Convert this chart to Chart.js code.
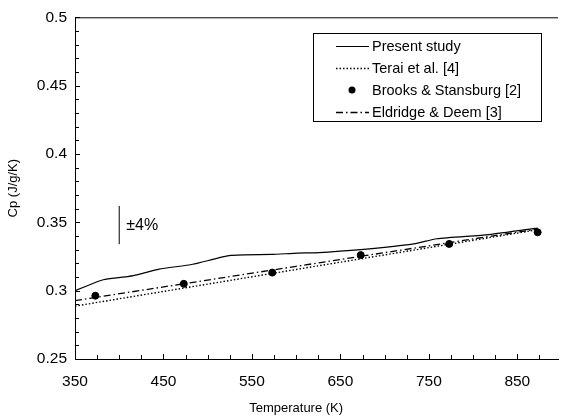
<!DOCTYPE html>
<html lang="en">
<head>
  <meta charset="UTF-8" />
  <title>Cp vs Temperature</title>
  <script src="https://cdn.jsdelivr.net/npm/chart.js"></script>
  <style>
    html, body { margin: 0; padding: 0; background: #fff; }
    #wrap { width: 563px; height: 418px; }
  </style>
</head>
<body>
  <div id="wrap"><canvas id="chart" width="563" height="418"></canvas></div>
  <script>
    // values
    const presentT  = [350, 375, 382, 416, 445, 483, 526, 572, 602, 621, 673, 733, 759, 818, 873];
    const presentCp = [0.300, 0.3065, 0.308, 0.311, 0.3157, 0.3193, 0.3258, 0.3265, 0.3275, 0.3277, 0.330, 0.3342, 0.338, 0.341, 0.3458];

    const teraiT  = [350, 600, 873];
    const teraiCp = [0.2887, 0.3155, 0.3446];

    const brooksT  = [373, 473, 573, 673, 773, 873];
    const brooksCp = [0.2963, 0.305, 0.3132, 0.326, 0.3342, 0.3427];

    const eldridgeT  = [350, 600, 873];
    const eldridgeCp = [0.2927, 0.3178, 0.3451];

    const errT  = [400, 400];
    const errCp = [0.334, 0.362];

    const xTicks = [350, 375, 400, 425, 450, 475, 500, 525, 550, 575, 600, 625, 650, 675, 700, 725, 750, 775, 800, 825, 850, 875];
    const yTicks = [0.25, 0.26, 0.27, 0.28, 0.29, 0.30, 0.31, 0.32, 0.33, 0.34, 0.35, 0.36, 0.37, 0.38, 0.39, 0.40, 0.41, 0.42, 0.43, 0.44, 0.45, 0.46, 0.47, 0.48, 0.49, 0.50];

    const labels = ['Present study', 'Terai et al. [4]', 'Brooks & Stansburg [2]', 'Eldridge & Deem [3]'];
    const xTitle = 'Temperature (K)';

    const pts = (xs, ys) => xs.map((x, i) => ({ x: x, y: ys[i] }));
    const FONT = '"Liberation Sans", Arial, Helvetica, sans-serif';

    // inward ticks, top frame line, boxed legend, x title and the ±4% note
    const decor = {
      id: 'decor',
      afterDraw(chart) {
        const ctx = chart.ctx;
        const a = chart.chartArea;
        const xs = chart.scales.x, ys = chart.scales.y;
        ctx.save();
        ctx.strokeStyle = '#000';
        ctx.lineWidth = 1;
        ctx.setLineDash([]);

        ctx.beginPath();
        ctx.moveTo(a.left, a.top + 0.5);
        ctx.lineTo(a.right, a.top + 0.5);
        ctx.stroke();

        ctx.beginPath();
        xTicks.forEach(v => {
          const px = Math.round(xs.getPixelForValue(v)) + 0.5;
          const len = ((v - 350) % 100 === 0) ? 5 : 4;
          ctx.moveTo(px, a.bottom);
          ctx.lineTo(px, a.bottom - len);
        });
        yTicks.forEach(v => {
          const py = Math.round(ys.getPixelForValue(v)) + 0.5;
          const major = Math.round(v * 100) % 5 === 0;
          ctx.moveTo(a.left, py);
          ctx.lineTo(a.left + (major ? 5 : 4), py);
        });
        ctx.stroke();

        // legend box
        const bx = 313.5, by = 33.5, bw = 228, bh = 88;
        ctx.strokeRect(bx, by, bw, bh);
        ctx.font = '14.5px ' + FONT;
        ctx.fillStyle = '#000';
        ctx.textBaseline = 'middle';
        const rows = [46, 68, 90, 112];
        chart.data.datasets.slice(0, 4).forEach((ds, i) => {
          const y = rows[i];
          if (ds.showLine === false) {
            ctx.beginPath();
            ctx.arc(352, y, 3.5, 0, Math.PI * 2);
            ctx.fill();
          } else {
            ctx.setLineDash(ds.borderDash || []);
            ctx.lineWidth = ds.borderWidth;
            ctx.beginPath();
            ctx.moveTo(336, y + 0.5);
            ctx.lineTo(369, y + 0.5);
            ctx.stroke();
            ctx.setLineDash([]);
          }
          ctx.fillText(ds.label, 372, y + 1);
        });

        ctx.font = '16px ' + FONT;
        ctx.fillText('\u00b14%', xs.getPixelForValue(408), ys.getPixelForValue(0.3475));

        // x axis title, centred on the figure rather than the clipped axis
        ctx.font = '13px ' + FONT;
        ctx.textAlign = 'center';
        ctx.fillText(xTitle, xs.getPixelForValue(600), 408);
        ctx.restore();
      }
    };

    new Chart(document.getElementById('chart'), {
      type: 'line',
      data: {
        datasets: [
          { label: labels[0], data: pts(presentT, presentCp), borderColor: '#000', borderWidth: 1.2, pointRadius: 0, tension: 0.2 },
          { label: labels[1], data: pts(teraiT, teraiCp), borderColor: '#000', borderWidth: 1.4, borderDash: [1.5, 2], pointRadius: 0 },
          { label: labels[2], data: pts(brooksT, brooksCp), showLine: false, pointRadius: 3.5, pointBackgroundColor: '#000', pointBorderColor: '#000', borderColor: '#000' },
          { label: labels[3], data: pts(eldridgeT, eldridgeCp), borderColor: '#000', borderWidth: 1.3, borderDash: [7, 3, 1.5, 3], pointRadius: 0 },
          { label: '', data: pts(errT, errCp), borderColor: '#000', borderWidth: 1, pointRadius: 0 }
        ]
      },
      options: {
        responsive: false,
        animation: false,
        layout: { padding: { top: 13, right: 0, left: 0, bottom: 0 } },
        plugins: { legend: { display: false }, tooltip: { enabled: false } },
        scales: {
          x: {
            type: 'linear',
            min: 350,
            max: 896,
            afterFit: s => { s.height = 59; },
            border: { display: true, color: '#000', width: 1 },
            grid: { display: true, drawOnChartArea: false, drawTicks: false },
            ticks: {
              stepSize: 25,
              includeBounds: false,
              autoSkip: false,
              maxRotation: 0,
              padding: 13,
              color: '#000',
              font: { family: FONT, size: 15.5 },
              callback: v => ((v - 350) % 100 === 0 ? String(v) : '')
            },
            title: { display: false }
          },
          y: {
            min: 0.25,
            max: 0.5,
            afterFit: s => { s.width = 75; },
            border: { display: true, color: '#000', width: 1 },
            grid: { display: true, drawOnChartArea: false, drawTicks: false },
            ticks: {
              stepSize: 0.01,
              autoSkip: false,
              padding: 8,
              color: '#000',
              font: { family: FONT, size: 15.5 },
              callback: v => {
                const k = Math.round(v * 100);
                return k % 5 === 0 ? String(k / 100) : '';
              }
            },
            title: { display: true, text: 'Cp (J/g/K)', color: '#000', font: { family: FONT, size: 13 }, padding: { top: 6, bottom: 0 } }
          }
        }
      },
      plugins: [decor]
    });
  </script>
</body>
</html>
